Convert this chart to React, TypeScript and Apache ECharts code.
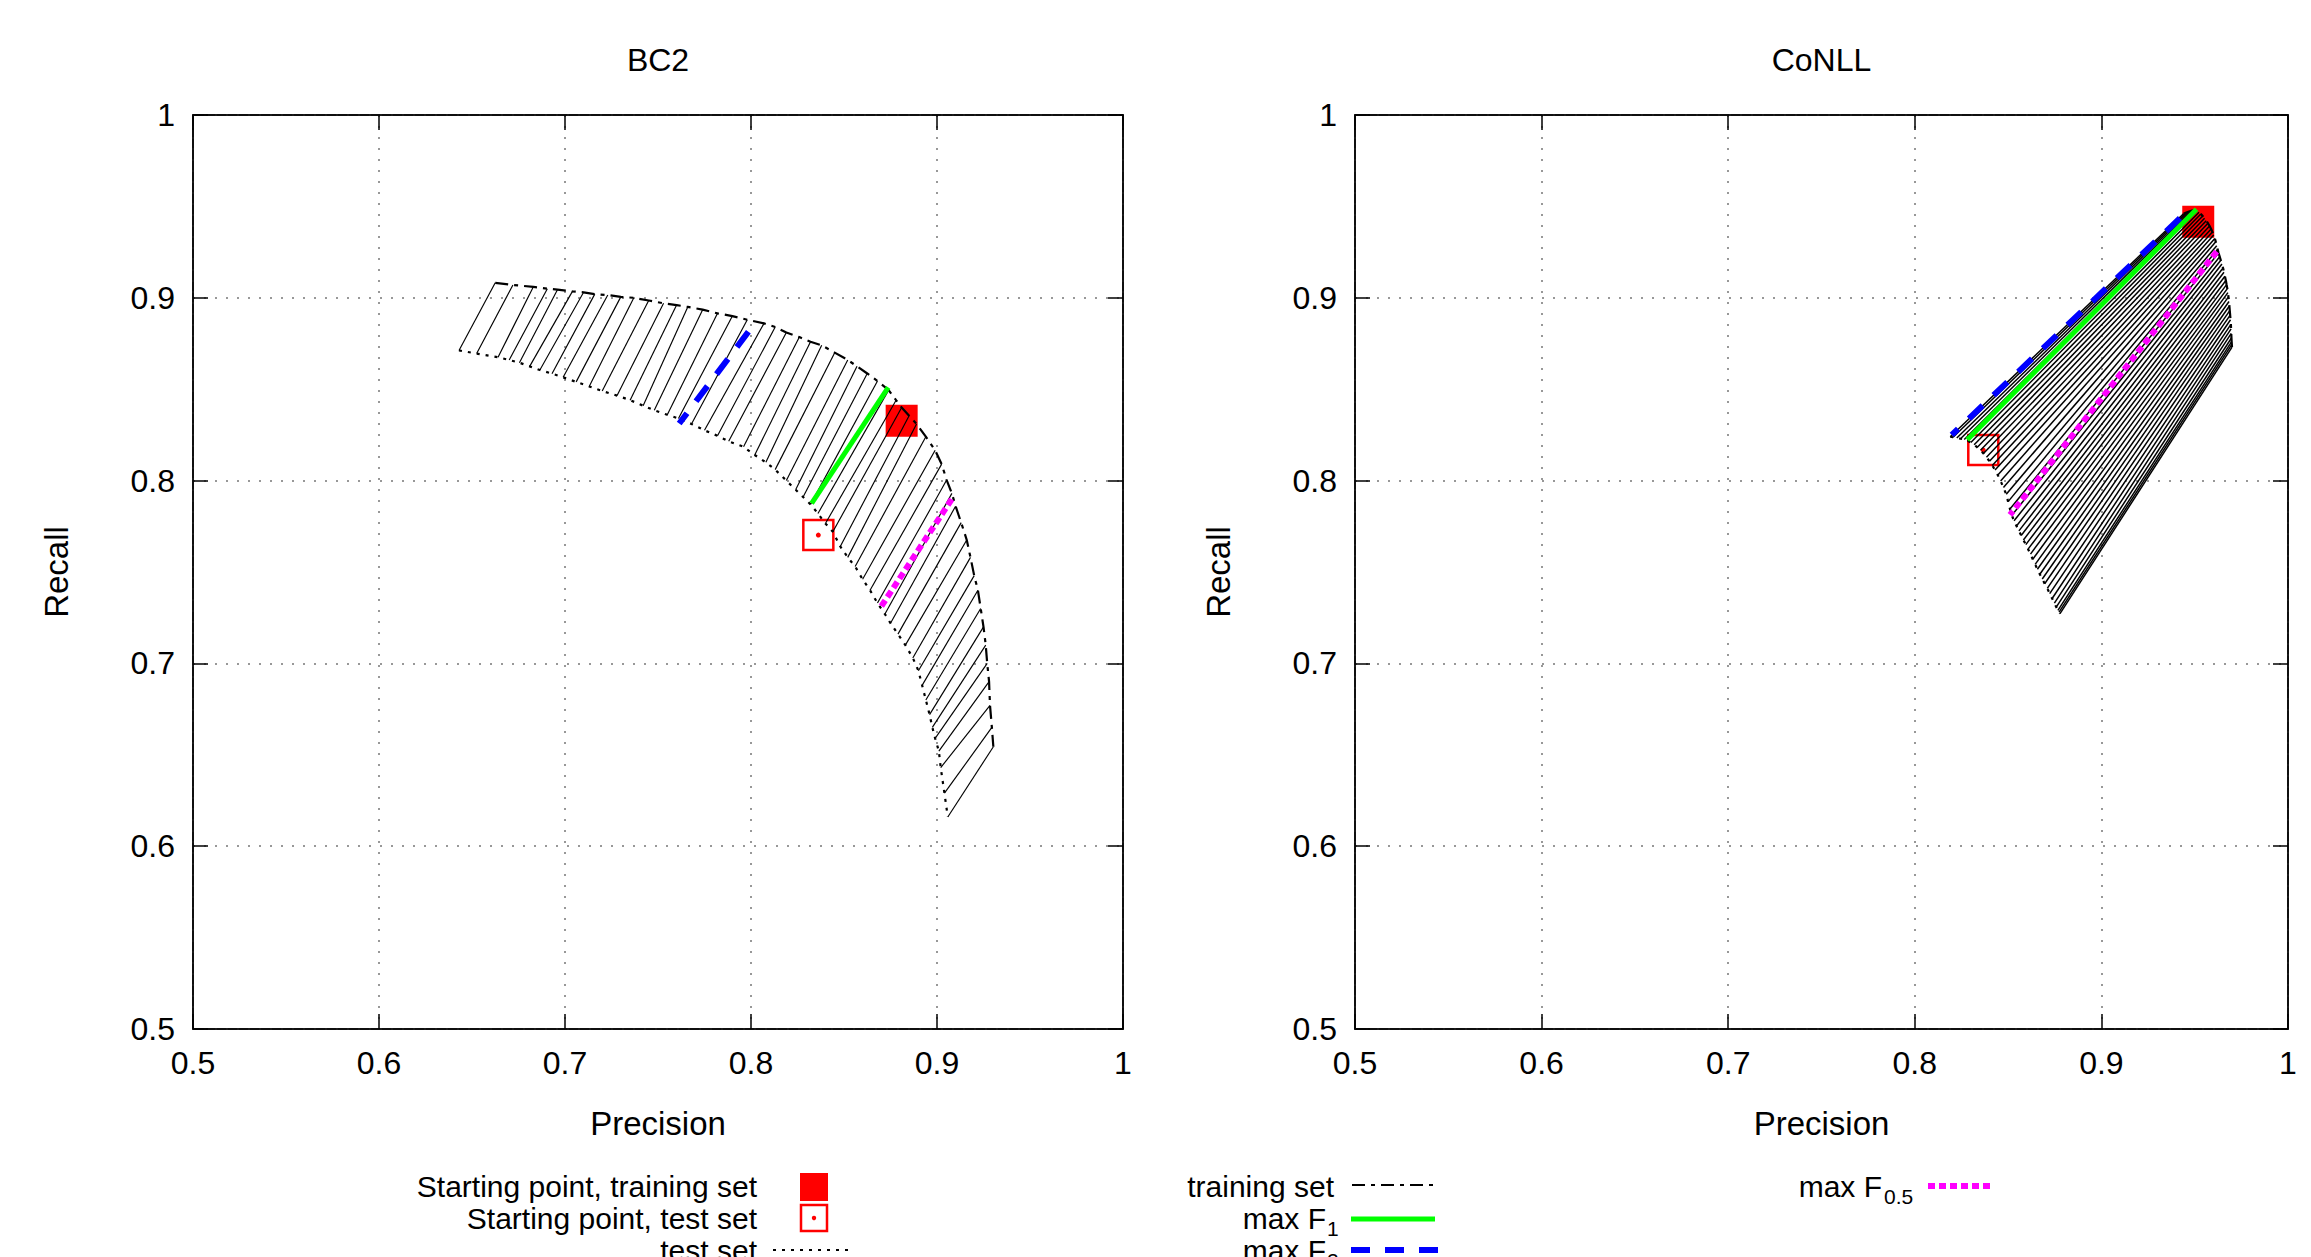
import React, { useEffect, useRef } from 'react';
import * as echarts from 'echarts';

const tickLabels = ['0.5', '0.6', '0.7', '0.8', '0.9', '1'];
const panelTitles = ['BC2', 'CoNLL'];
const axisNames = ['Precision', 'Recall'];

// BC2: training-set curve (precision, recall)
const bc2Train: [number, number][] = [
  [0.6625, 0.9082], [0.672, 0.907], [0.683, 0.906], [0.6905, 0.905], [0.696, 0.9045],
  [0.704, 0.9035], [0.71, 0.903], [0.716, 0.902], [0.723, 0.9015], [0.73, 0.9005],
  [0.737, 0.9], [0.745, 0.8985], [0.753, 0.897], [0.76, 0.896], [0.766, 0.895],
  [0.774, 0.8935], [0.782, 0.8915], [0.79, 0.89], [0.798, 0.888], [0.807, 0.886],
  [0.813, 0.884], [0.819, 0.881], [0.826, 0.8785], [0.832, 0.876], [0.838, 0.874],
  [0.845, 0.87], [0.852, 0.866], [0.857, 0.8625], [0.8625, 0.8586], [0.868, 0.8545],
  [0.874, 0.8495], [0.878, 0.844], [0.881, 0.84], [0.885, 0.8355], [0.889, 0.831],
  [0.894, 0.824], [0.899, 0.8166], [0.9025, 0.809], [0.9052, 0.8003], [0.908, 0.793],
  [0.91, 0.786], [0.913, 0.777], [0.916, 0.7675], [0.918, 0.758], [0.92, 0.748],
  [0.922, 0.74], [0.9235, 0.73], [0.925, 0.72], [0.9262, 0.71], [0.927, 0.7],
  [0.928, 0.69], [0.9285, 0.677], [0.9295, 0.665], [0.9303, 0.6544],
];
// BC2: test-set curve
const bc2Test: [number, number][] = [
  [0.643, 0.8712], [0.6525, 0.8695], [0.664, 0.8675], [0.67, 0.866], [0.6755, 0.8645],
  [0.681, 0.8625], [0.6865, 0.8605], [0.693, 0.8585], [0.699, 0.8565], [0.706, 0.854],
  [0.713, 0.8515], [0.72, 0.849], [0.728, 0.8465], [0.735, 0.844], [0.742, 0.841],
  [0.748, 0.8385], [0.755, 0.836], [0.761, 0.834], [0.768, 0.831], [0.775, 0.8275],
  [0.782, 0.8245], [0.788, 0.8215], [0.796, 0.8185], [0.802, 0.814], [0.808, 0.81],
  [0.813, 0.806], [0.819, 0.8], [0.824, 0.795], [0.828, 0.791], [0.832, 0.787],
  [0.836, 0.782], [0.84, 0.7765], [0.844, 0.772], [0.848, 0.764], [0.852, 0.758],
  [0.856, 0.753], [0.86, 0.746], [0.864, 0.74], [0.868, 0.733], [0.872, 0.727],
  [0.875, 0.722], [0.879, 0.716], [0.883, 0.71], [0.887, 0.703], [0.89, 0.696],
  [0.892, 0.688], [0.894, 0.68], [0.896, 0.672], [0.8975, 0.665], [0.899, 0.659],
  [0.901, 0.652], [0.902, 0.643], [0.904, 0.629], [0.9058, 0.616],
];
const bc2StartTrain: [number, number][] = [[0.881, 0.8328]];
const bc2StartTest: [number, number][] = [[0.8362, 0.7702]];
const bc2MaxF1: [number, number][] = [[0.8738, 0.851], [0.8326, 0.7876]];
const bc2MaxF2: [number, number][] = [[0.7986, 0.8814], [0.7614, 0.8312]];
const bc2MaxF05: [number, number][] = [[0.9079, 0.7898], [0.869, 0.7296]];

// CoNLL: training-set curve
const conllTrain: [number, number][] = [
  [0.944, 0.946], [0.9455, 0.9466], [0.947, 0.9472], [0.9485, 0.9477], [0.95, 0.948],
  [0.9512, 0.9476], [0.9523, 0.9468], [0.9533, 0.9458], [0.9543, 0.9447], [0.9553, 0.9435],
  [0.9562, 0.9422], [0.9571, 0.9408], [0.958, 0.9393], [0.9588, 0.9377], [0.9595, 0.936],
  [0.9602, 0.9343], [0.9608, 0.9325], [0.9613, 0.9306], [0.9618, 0.9285], [0.9623, 0.9265],
  [0.9628, 0.9245], [0.9634, 0.9225], [0.964, 0.9205], [0.9646, 0.9185], [0.9652, 0.9163],
  [0.9657, 0.914], [0.9662, 0.9118], [0.9667, 0.9095], [0.9671, 0.9072], [0.9675, 0.905],
  [0.9678, 0.9028], [0.9681, 0.9005], [0.9684, 0.898], [0.9686, 0.8955], [0.9688, 0.893],
  [0.969, 0.8905], [0.9692, 0.888], [0.9694, 0.8855], [0.9695, 0.883], [0.9696, 0.8805],
  [0.9697, 0.878], [0.9698, 0.876], [0.9699, 0.8745], [0.97, 0.873],
];
// CoNLL: test-set curve
const conllTest: [number, number][] = [
  [0.819, 0.824], [0.8205, 0.8237], [0.8225, 0.8233], [0.8245, 0.8229], [0.8265, 0.8225],
  [0.8282, 0.8218], [0.83, 0.8208], [0.8318, 0.8196], [0.8335, 0.8182], [0.8352, 0.8166],
  [0.8368, 0.8148], [0.8384, 0.8128], [0.84, 0.8106], [0.8415, 0.8083], [0.843, 0.8058],
  [0.8445, 0.803], [0.846, 0.7998], [0.8475, 0.7962], [0.849, 0.7925], [0.85, 0.7885],
  [0.851, 0.7845], [0.852, 0.781], [0.8532, 0.778], [0.8545, 0.7752], [0.8558, 0.7725],
  [0.857, 0.77], [0.8582, 0.7675], [0.8595, 0.765], [0.8607, 0.7625], [0.862, 0.7598],
  [0.8632, 0.757], [0.8645, 0.7542], [0.8657, 0.7515], [0.867, 0.7488], [0.8683, 0.7462],
  [0.8696, 0.7436], [0.871, 0.741], [0.8723, 0.7382], [0.8736, 0.7355], [0.8748, 0.733],
  [0.8758, 0.7308], [0.8767, 0.729], [0.8773, 0.728], [0.8778, 0.7272],
];
const conllStartTrain: [number, number][] = [[0.9519, 0.9416]];
const conllStartTest: [number, number][] = [[0.8367, 0.8167]];
const conllMaxF1: [number, number][] = [[0.951, 0.9484], [0.8281, 0.8223]];
const conllMaxF2: [number, number][] = [[0.9421, 0.9435], [0.8198, 0.825]];
const conllMaxF05: [number, number][] = [[0.9618, 0.9253], [0.851, 0.7812]];

const legendLabels = {
  startTrain: 'Starting point, training set',
  startTest: 'Starting point, test set',
  testSet: 'test set',
  trainSet: 'training set',
  maxF: 'max F',
  sub1: '1',
  sub2: '2',
  sub05: '0.5',
};

const FONT = 'Liberation Sans, Arial, Helvetica, sans-serif';
const RED = '#ff0000';
const GREEN = '#00ff00';
const BLUE = '#0000ff';
const MAGENTA = '#ff00ff';
const TRAIN_DASH = [13, 6, 4, 6];
const TEST_DASH = [3, 6];
const F2_DASH = [19, 15];
const F05_DASH = [7, 4];

const grids = [
  { left: 193, top: 115, width: 930, height: 914 },
  { left: 1355, top: 115, width: 933, height: 914 },
];
const linkWidths = [1.15, 1.5];

function fmt(v: number) {
  const s = String(Math.round(v * 10) / 10);
  return tickLabels.indexOf(s) >= 0 ? s : '';
}

function buildOption() {
  const xAxis: any[] = [];
  const yAxis: any[] = [];
  grids.forEach((_, gi) => {
    const base = {
      type: 'value', min: 0.5, max: 1, interval: 0.1, gridIndex: gi,
      axisLine: { show: true, lineStyle: { color: '#000', width: 1.5 } },
      axisTick: { show: true, inside: true, length: 15, lineStyle: { color: '#000', width: 1.5 } },
    };
    xAxis.push({
      ...base, position: 'bottom',
      axisLabel: { show: true, margin: 18, fontSize: 32, fontFamily: FONT, color: '#000', formatter: fmt },
      splitLine: { show: true, lineStyle: { color: '#777', width: 1.5, type: [2, 9] } },
    });
    xAxis.push({ ...base, position: 'top', axisLabel: { show: false }, splitLine: { show: false } });
    yAxis.push({
      ...base, position: 'left',
      axisLabel: { show: true, margin: 18, fontSize: 32, fontFamily: FONT, color: '#000', formatter: fmt },
      splitLine: { show: true, lineStyle: { color: '#777', width: 1.5, type: [2, 9] } },
    });
    yAxis.push({ ...base, position: 'right', axisLabel: { show: false }, splitLine: { show: false } });
  });

  const series: any[] = [];
  const panels = [
    { train: bc2Train, test: bc2Test, st: bc2StartTrain, ss: bc2StartTest, f1: bc2MaxF1, f2: bc2MaxF2, f05: bc2MaxF05 },
    { train: conllTrain, test: conllTest, st: conllStartTrain, ss: conllStartTest, f1: conllMaxF1, f2: conllMaxF2, f05: conllMaxF05 },
  ];
  panels.forEach((p, gi) => {
    const ax = { xAxisIndex: gi * 2, yAxisIndex: gi * 2 };
    series.push({
      type: 'scatter', ...ax, data: p.st, symbol: 'rect', symbolSize: 32, z: 1,
      itemStyle: { color: RED, opacity: 1 }, silent: true,
    });
    series.push({
      type: 'scatter', ...ax, data: p.ss, symbol: 'rect', symbolSize: 30, z: 1,
      itemStyle: { color: 'rgba(0,0,0,0)', borderColor: RED, borderWidth: 2.5, opacity: 1 }, silent: true,
    });
    series.push({
      type: 'scatter', ...ax, data: p.ss, symbol: 'circle', symbolSize: 5, z: 1,
      itemStyle: { color: RED, opacity: 1 }, silent: true,
    });
    series.push({
      type: 'lines', coordinateSystem: 'cartesian2d', ...ax, z: 2, silent: true,
      data: p.train.map((t, i) => ({ coords: [t, p.test[i]] })),
      lineStyle: { color: '#000', width: linkWidths[gi], opacity: 1 },
    });
    series.push({
      type: 'line', ...ax, data: p.train, showSymbol: false, z: 3, silent: true,
      lineStyle: { color: '#000', width: 2.2, type: TRAIN_DASH },
    });
    series.push({
      type: 'line', ...ax, data: p.test, showSymbol: false, z: 3, silent: true,
      lineStyle: { color: '#000', width: 2.2, type: TEST_DASH },
    });
    series.push({
      type: 'line', ...ax, data: p.f2, showSymbol: false, z: 4, silent: true,
      lineStyle: { color: BLUE, width: 6, type: F2_DASH },
    });
    series.push({
      type: 'line', ...ax, data: p.f1, showSymbol: false, z: 4, silent: true,
      lineStyle: { color: GREEN, width: 5, type: 'solid' },
    });
    series.push({
      type: 'line', ...ax, data: p.f05, showSymbol: false, z: 4, silent: true,
      lineStyle: { color: MAGENTA, width: 6, type: F05_DASH },
    });
  });

  const txt = (text: string, x: number, y: number, size: number, align: string, extra: any = {}) => ({
    type: 'text', x, y, ...extra,
    style: { text, fill: '#000', fontSize: size, fontFamily: FONT, textAlign: align, textVerticalAlign: 'middle', verticalAlign: 'middle' },
  });
  const hline = (x1: number, x2: number, y: number, color: string, width: number, dash?: number[]) => ({
    type: 'line', shape: { x1, y1: y, x2, y2: y },
    style: { stroke: color, lineWidth: width, lineDash: dash },
  });

  const graphic: any[] = [];
  grids.forEach((g, gi) => {
    const cx = g.left + g.width / 2;
    graphic.push(txt(panelTitles[gi], cx, 60, 32, 'center'));
    graphic.push(txt(axisNames[0], cx, 1123, 33, 'center'));
    graphic.push(txt(axisNames[1], g.left - 137, g.top + g.height / 2, 33, 'center', { rotation: Math.PI / 2 }));
  });
  // legend column 1
  graphic.push(txt(legendLabels.startTrain, 757, 1186, 30, 'right'));
  graphic.push({ type: 'rect', shape: { x: 800, y: 1173, width: 28, height: 28 }, style: { fill: RED } });
  graphic.push(txt(legendLabels.startTest, 757, 1218, 30, 'right'));
  graphic.push({ type: 'rect', shape: { x: 801, y: 1205, width: 26, height: 26 }, style: { fill: 'none', stroke: RED, lineWidth: 2.5 } });
  graphic.push({ type: 'circle', shape: { cx: 814, cy: 1218, r: 2.2 }, style: { fill: RED } });
  graphic.push(txt(legendLabels.testSet, 757, 1250, 30, 'right'));
  graphic.push(hline(773, 853, 1250, '#000', 2, TEST_DASH));
  // legend column 2
  graphic.push(txt(legendLabels.trainSet, 1334, 1186, 30, 'right'));
  graphic.push(hline(1352, 1434, 1185, '#000', 2, TRAIN_DASH));
  graphic.push(txt(legendLabels.maxF, 1326, 1218, 30, 'right'));
  graphic.push(txt(legendLabels.sub1, 1327, 1228, 21, 'left'));
  graphic.push(hline(1351, 1435, 1219, GREEN, 5));
  graphic.push(txt(legendLabels.maxF, 1326, 1250, 30, 'right'));
  graphic.push(txt(legendLabels.sub2, 1327, 1260, 21, 'left'));
  graphic.push(hline(1351, 1442, 1250, BLUE, 6, F2_DASH));
  // legend column 3
  graphic.push(txt(legendLabels.maxF, 1882, 1186, 30, 'right'));
  graphic.push(txt(legendLabels.sub05, 1884, 1196, 21, 'left'));
  graphic.push(hline(1928, 1990, 1186, MAGENTA, 6, F05_DASH));

  return {
    animation: false,
    backgroundColor: '#fff',
    grid: grids.map((g) => ({ ...g, show: true, borderColor: '#000', borderWidth: 1.5, backgroundColor: 'transparent' })),
    xAxis,
    yAxis,
    series,
    graphic,
  };
}

export default function App() {
  const ref = useRef<HTMLDivElement>(null);
  useEffect(() => {
    if (!ref.current) return;
    const chart = echarts.init(ref.current, undefined, { renderer: 'svg' });
    chart.setOption(buildOption() as any);
    return () => chart.dispose();
  }, []);
  return (
    <div
      ref={ref}
      style={{ position: 'absolute', left: 0, top: 0, width: 2311, height: 1257, background: '#fff' }}
    />
  );
}
